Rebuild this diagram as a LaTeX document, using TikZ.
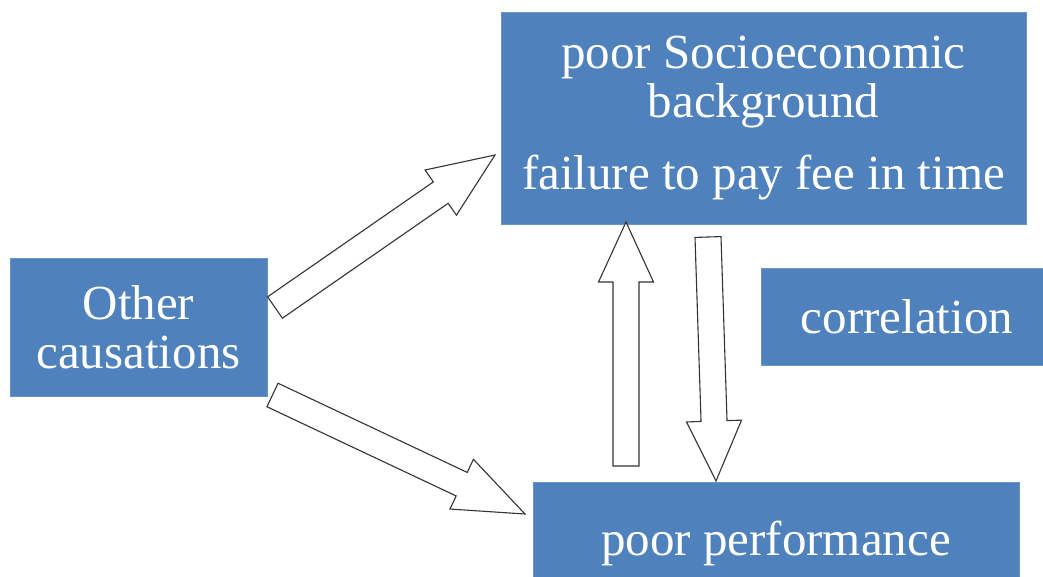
\documentclass[tikz,border=0pt]{standalone}
\usepackage{fontspec}
\setmainfont{Liberation Serif}
\usepackage{xcolor}
\usepackage{tikz}
\usetikzlibrary{calc}
\definecolor{boxblue}{HTML}{4F81BD}

% block arrow: #1 head length, #2 tail, #3 tip
\newcommand{\fatarrow}[3]{%
    \coordinate (nk) at ($(#3)!#1pt!(#2)$);
    \draw[fat] ($(#2)!13pt!90:(#3)$) -- ($(nk)!13pt!90:(#3)$) -- ($(nk)!27.5pt!90:(#3)$)
        -- (#3) -- ($(nk)!27.5pt!-90:(#3)$) -- ($(nk)!13pt!-90:(#3)$) -- ($(#2)!13pt!-90:(#3)$) -- cycle;
}

\begin{document}
\begin{tikzpicture}[x=1pt,y=-1pt,
        box/.style={fill=boxblue, draw=boxblue!85!white, line width=0.6pt, inner sep=0pt,
            text=white, align=center, font=\fontsize{49}{49}\selectfont},
        fat/.style={draw=black!80, line width=1.1pt, fill=white, line join=miter}]
            \useasboundingbox (0,0) rectangle (1043,576);

            \node[box, minimum width=525, minimum height=212] (socio) at (763.5,118)
                {poor Socioeconomic\\background\\[23pt]failure to pay fee in time};
            \node[box, minimum width=257, minimum height=138] (other) at (138.5,327) {Other\\causations};
            \node[box, minimum width=292, minimum height=97] (corr) at (907,316.5) {correlation};
            \node[box, minimum width=486, minimum height=123] (perf) at (776,543.5) {poor performance};

            \coordinate (t1) at (275,307.5);  \coordinate (h1) at (495,155);
            \coordinate (t2) at (272.5,395);  \coordinate (h2) at (525,514);
            \coordinate (t3) at (626,466);    \coordinate (h3) at (626,222);
            \coordinate (t4) at (708,237);    \coordinate (h4) at (716,481);

            \fatarrow{66}{t1}{h1}
            \fatarrow{70}{t2}{h2}
            \fatarrow{60}{t3}{h3}
            \fatarrow{60}{t4}{h4}
        \end{tikzpicture}
\end{document}
